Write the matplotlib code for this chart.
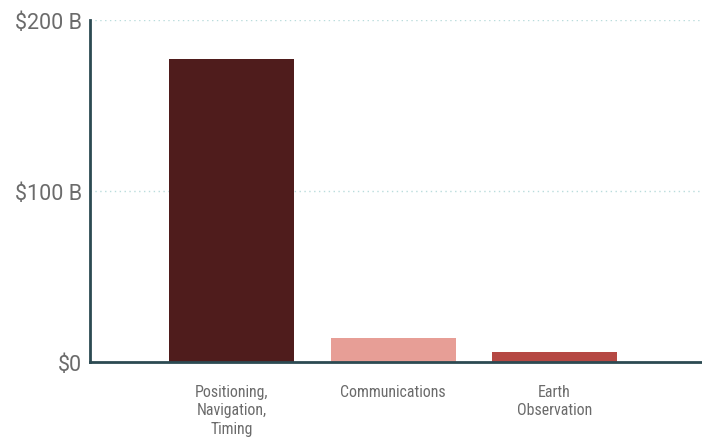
import matplotlib.pyplot as plt

categories = ['Positioning,\nNavigation,\nTiming', 'Communications', 'Earth\nObservation']
revenue = [177.2, 14.0, 5.8]  # billions of USD
bar_colors = ['#4f1c1c', '#e79e96', '#b54843']
yticks = [0, 100, 200]
ytick_labels = ['$0', '$100 B', '$200 B']

fig = plt.figure(figsize=(7.02, 4.39), dpi=100)
ax = fig.add_axes([0.1282, 0.1731, 0.8718, 0.7791])

x = range(len(categories))
ax.bar(x, revenue, width=0.774, color=bar_colors, zorder=3)

ax.set_xlim(-0.876, 2.913)
ax.set_ylim(0, 200)
ax.set_yticks(yticks)
ax.set_yticklabels(ytick_labels, fontsize=15.5, color='#6b6b6b', family='Roboto')
ax.set_xticks(list(x))
ax.set_xticklabels(categories, fontsize=11.4, color='#6b6b6b', family='Roboto Condensed',
                   linespacing=1.3, va='top')
ax.tick_params(axis='y', length=0, pad=6)
ax.tick_params(axis='x', length=0, pad=15.5)

ax.grid(axis='y', linestyle=(0, (1, 2.5)), color='#b9dcdc', linewidth=1, zorder=0)
for side in ['top', 'right']:
    ax.spines[side].set_visible(False)
for side in ['left', 'bottom']:
    ax.spines[side].set_color('#2c4a52')
    ax.spines[side].set_linewidth(2)
    ax.spines[side].set_zorder(4)

fig.savefig('out.png', dpi=100)
